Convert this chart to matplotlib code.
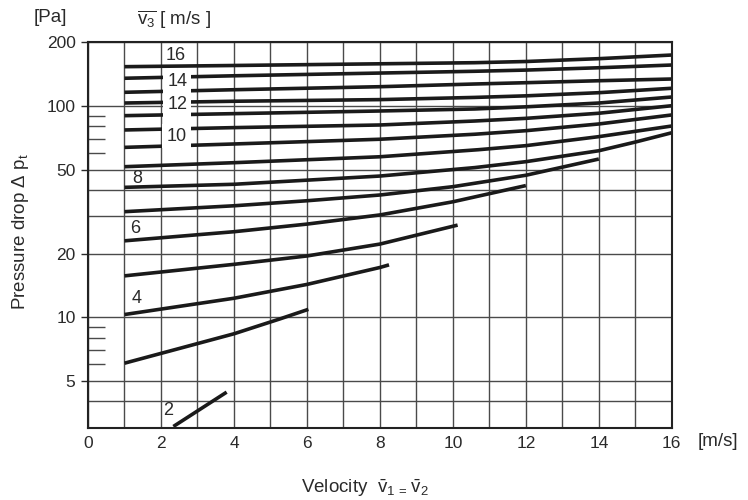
import numpy as np
import matplotlib
matplotlib.use("Agg")
import matplotlib.pyplot as plt

plt.rcParams['font.family'] = ['Liberation Sans', 'DejaVu Sans']
plt.rcParams['mathtext.fontset'] = 'custom'
plt.rcParams['mathtext.rm'] = 'Liberation Sans'
plt.rcParams['mathtext.it'] = 'Liberation Sans'
plt.rcParams['mathtext.bf'] = 'Liberation Sans:bold'

# v3 [m/s] -> (velocity v1=v2 [m/s], pressure drop [Pa])
v_16 = [1, 4, 8, 10.6, 12, 14, 16];  p_16 = [153.5, 155.5, 158.4, 160.3, 162.4, 167.5, 174.3]
v_15 = [1, 4, 8, 10.6, 12, 14, 16];  p_15 = [135.3, 139.0, 143.2, 146.0, 147.9, 151.7, 156.3]
v_14 = [1, 4, 8, 10.6, 12, 14, 16];  p_14 = [116.1, 119.4, 123.4, 127.1, 128.9, 131.7, 134.2]
v_13 = [1, 4, 8, 10.6, 12, 14, 16];  p_13 = [103.3, 105.3, 107.2, 109.8, 111.7, 115.6, 121.3]
v_12 = [1, 4, 8, 10.6, 12, 14, 16];  p_12 = [90.0, 92.0, 94.7, 96.8, 99.1, 103.3, 110.3]
v_11 = [1, 4, 8, 10.6, 12, 14, 16];  p_11 = [77.0, 79.0, 81.3, 84.9, 87.4, 92.4, 100.3]
v_10 = [1, 4, 8, 10.6, 12, 14, 16];  p_10 = [63.7, 66.1, 69.6, 73.5, 76.4, 82.2, 90.7]
v_9 = [1, 4, 8, 10.7, 12, 14, 16];   p_9 = [51.6, 53.9, 57.5, 62.1, 64.9, 71.6, 80.4]
v_8 = [1, 4, 8, 10.6, 12, 14, 15, 16]; p_8 = [41.2, 42.6, 46.6, 51.1, 54.5, 61.4, 67.5, 74.7]
v_7 = [1, 4, 6, 8, 10, 12, 14];      p_7 = [31.6, 33.7, 35.6, 37.9, 41.5, 47.0, 56.1]
v_6 = [1, 4, 6, 8, 10, 12];          p_6 = [23.0, 25.4, 27.6, 30.5, 35.2, 42.0]
v_5 = [1, 4, 6, 8, 10.13];           p_5 = [15.7, 17.8, 19.5, 22.2, 27.3]
v_4 = [1, 4, 6, 8, 8.25];            p_4 = [10.3, 12.3, 14.3, 17.2, 17.7]
v_3 = [1, 4, 5.26, 6.04];            p_3 = [6.06, 8.35, 9.82, 10.9]
v_2 = [2.34, 3.8];                   p_2 = [3.04, 4.42]

curves = [(v_16, p_16), (v_15, p_15), (v_14, p_14), (v_13, p_13), (v_12, p_12),
          (v_11, p_11), (v_10, p_10), (v_9, p_9), (v_8, p_8), (v_7, p_7),
          (v_6, p_6), (v_5, p_5), (v_4, p_4), (v_3, p_3), (v_2, p_2)]

curve_labels = ['16', '14', '12', '10', '8', '6', '4', '2']
label_x = [2.14, 2.17, 2.17, 2.15, 1.22, 1.15, 1.19, 2.05]
label_y = [174.3, 130.3, 101.9, 72.1, 45.5, 26.2, 12.2, 3.6]
label_boxed = [False, True, True, True, False, False, False, False]

x_ticks = [0, 2, 4, 6, 8, 10, 12, 14, 16]
y_ticks = [5, 10, 20, 50, 100, 200]
y_extra_grid = [4, 30, 40]
y_small_marks = [6, 7, 8, 9, 60, 70, 80, 90]

TXT = '#2a2a2a'

fig = plt.figure(figsize=(7.48, 5.0), dpi=100)
ax = fig.add_axes([88/748, 1-427.7/500, (671.8-88)/748, (427.7-42.4)/500])
ax.set_yscale('log')
ax.set_xlim(0, 16)
ax.set_ylim(3, 200)

ax.set_xticks(x_ticks)
ax.set_xticklabels([str(t) for t in x_ticks])
ax.set_xticks(np.arange(1, 16), minor=True)
ax.set_yticks(y_ticks)
ax.set_yticklabels([str(t) for t in y_ticks])
ax.set_yticks(y_extra_grid, minor=True)
ax.yaxis.set_minor_formatter(matplotlib.ticker.NullFormatter())
ax.tick_params(axis='x', which='both', length=0, pad=6, labelsize=12.5, colors=TXT)
ax.tick_params(axis='y', which='major', length=5, width=1, pad=4, labelsize=12.5, colors=TXT)
ax.tick_params(axis='y', which='minor', length=0)

ax.grid(True, which='both', axis='both', color='#4a4a4a', lw=1.0, zorder=0)
ax.set_axisbelow(True)
for s in ax.spines.values():
    s.set_linewidth(1.5)
    s.set_color('#222222')

ax.hlines(y_small_marks, 0, 0.47, color='#4a4a4a', lw=1.0, zorder=1)

for vx, py in curves:
    ax.plot(vx, py, color='#1a1a1a', lw=2.6, solid_capstyle='butt', zorder=2)

for t, lx, ly, boxed in zip(curve_labels, label_x, label_y, label_boxed):
    kw = {}
    if boxed:
        kw['bbox'] = dict(facecolor='white', edgecolor='none', pad=2.8)
    ax.text(lx, ly, t, fontsize=13, color=TXT, ha='left', va='center', zorder=3, **kw)

fig.text(50/748, 1-18/500, '[Pa]', fontsize=13.5, color=TXT, ha='center', va='center')
fig.text(137/748, 1-20/500, r'$\overline{\mathrm{v}_3}$ [ m/s ]', fontsize=13.5, color=TXT,
         ha='left', va='center')
fig.text(698/748, 1-442/500, '[m/s]', fontsize=13.5, color=TXT, ha='left', va='center')
fig.text(365/748, 1-488/500, r'Velocity  $\bar{\mathrm{v}}_1$$_{\,=\,}$$\bar{\mathrm{v}}_2$', fontsize=13.5,
         color=TXT, ha='center', va='center')
fig.text(21/748, 1-232/500, r'Pressure drop $\Delta$ p$_\mathrm{t}$', fontsize=13.5, color=TXT,
         ha='center', va='center', rotation=90)

fig.savefig('out.png', dpi=100)
